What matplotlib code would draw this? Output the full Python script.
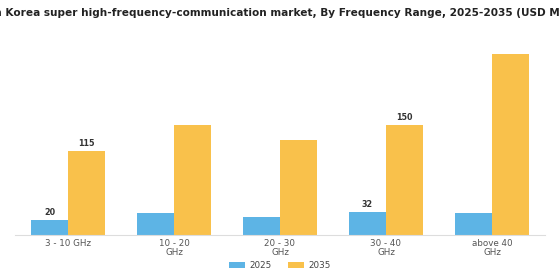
import matplotlib
matplotlib.use("Agg")
import matplotlib.pyplot as plt
import numpy as np

categories = ["3 - 10 GHz", "10 - 20\nGHz", "20 - 30\nGHz", "30 - 40\nGHz", "above 40\nGHz"]
years = ["2025", "2035"]
values_2025 = [20, 30, 25, 32, 30]
values_2035 = [115, 150, 130, 150, 247]
# which bars carry a value label (category index)
labelled = [0, 3]

BLUE = "#5DB4E5"
YELLOW = "#F9C14B"

fig = plt.figure(figsize=(5.6, 2.8), dpi=100)
ax = fig.add_axes([15 / 560, 45 / 280, 530 / 560, 200 / 280])

x = np.arange(len(categories))
w = 0.35
b1 = ax.bar(x - w / 2, values_2025, w, color=BLUE, label=years[0])
b2 = ax.bar(x + w / 2, values_2035, w, color=YELLOW, label=years[1])

for i in labelled:
    ax.text(x[i] - w / 2, values_2025[i] + 4, str(values_2025[i]), ha="center", va="bottom",
            fontsize=5.8, fontweight="bold", color="#333333")
    ax.text(x[i] + w / 2, values_2035[i] + 4, str(values_2035[i]), ha="center", va="bottom",
            fontsize=5.8, fontweight="bold", color="#333333")

ax.set_xlim(-0.5, 4.5)
ax.set_ylim(0, 273)
ax.set_xticks(x)
ax.set_xticklabels(categories, fontsize=6.3, color="#555555", linespacing=1.0)
ax.tick_params(axis="x", length=0, pad=3)
ax.set_yticks([])
for s in ["top", "right", "left"]:
    ax.spines[s].set_visible(False)
ax.spines["bottom"].set_color("#dddddd")
ax.spines["bottom"].set_linewidth(0.8)

# title is wider than the canvas in the original, so it gets clipped at both sides
fig.text(0.5, 0.955, "South Korea super high-frequency-communication market, By Frequency Range, 2025-2035 (USD Million)",
         ha="center", va="center", fontsize=7.6, fontweight="bold", color="#222222")

fig.legend(handles=[b1, b2], labels=years, loc="center", bbox_to_anchor=(0.5, 0.053),
           ncol=2, frameon=False, fontsize=6.3, handlelength=1.8, handleheight=0.7,
           handletextpad=0.6, columnspacing=1.8, labelcolor="#444444")

fig.savefig("out.png", dpi=100)
